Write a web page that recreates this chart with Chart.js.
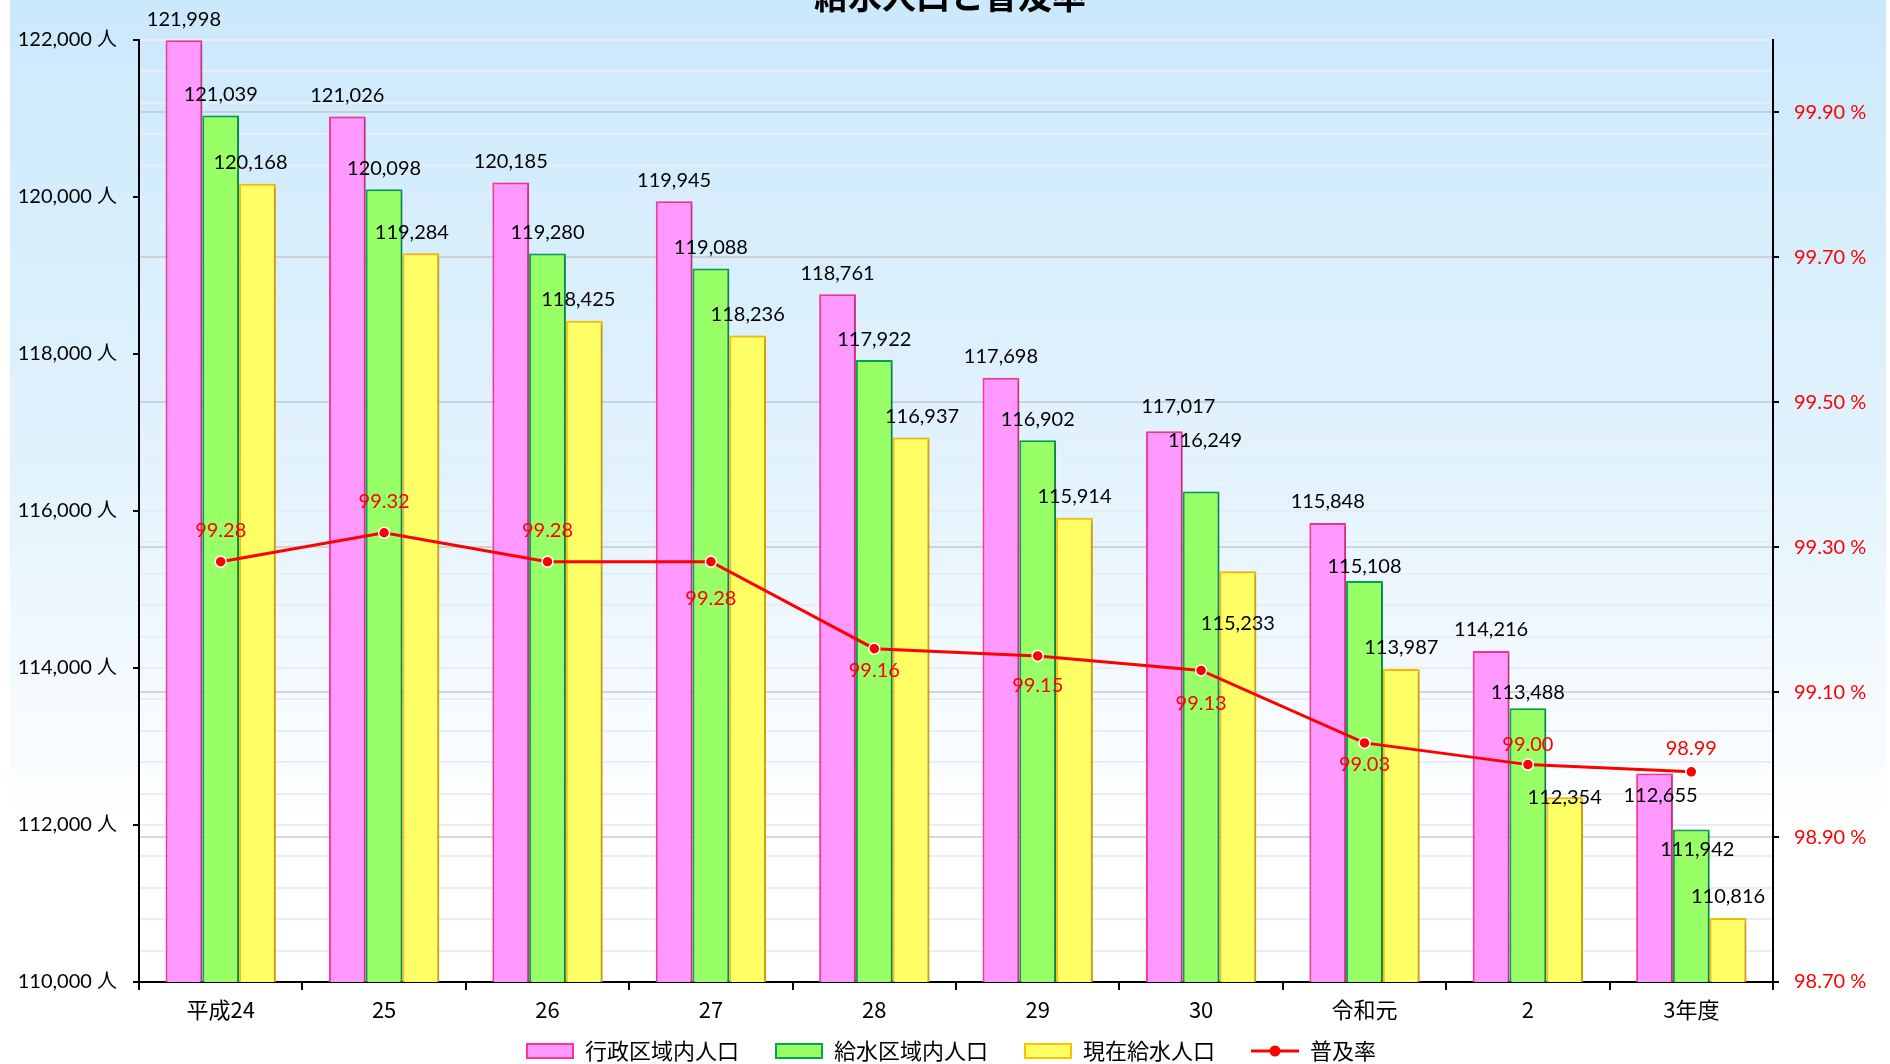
<!DOCTYPE html>
<html>
<head>
<meta charset="utf-8">
<script src="https://cdn.jsdelivr.net/npm/chart.js@4.4.1/dist/chart.umd.min.js"></script>
<style>
  html, body { margin: 0; padding: 0; background: #fff; }
</style>
</head>
<body>
<canvas id="myChart" width="1890" height="1064"></canvas>
<script>
'use strict';

let years = ['平成24', '25', '26', '27', '28', '29', '30', '令和元', '2', '3年度'];
let gyoseiPop = [121998, 121026, 120185, 119945, 118761, 117698, 117017, 115848, 114216, 112655];
let kyusuiKuikiPop = [121039, 120098, 119280, 119088, 117922, 116902, 116249, 115108, 113488, 111942];
let genzaiPop = [120168, 119284, 118425, 118236, 116937, 115914, 115233, 113987, 112354, 110816];
let fukyuRate = [99.28, 99.32, 99.28, 99.28, 99.16, 99.15, 99.13, 99.03, 99.00, 98.99];

let leftTicks = [110000, 112000, 114000, 116000, 118000, 120000, 122000];
let rightTicks = [98.7, 98.9, 99.1, 99.3, 99.5, 99.7, 99.9];

const fontFamily = "Lato, 'Noto Sans CJK JP', sans-serif";
const jpFont = "'Noto Sans CJK JP', Lato, sans-serif";

// label nudges (px) for the value labels, tuned by eye
const barLabelDy = -21;
const barLabelFix = {
  '2-0': [-7, -21], '2-1': [-9, -21], '2-2': [-6, -21], '2-4': [11, -21],
  '0-6': [14, -25], '1-6': [4, -51], '2-6': [0, 52],
  '1-7': [0, -14], '1-8': [0, -16], '2-8': [0, 0],
  '0-9': [6, 22], '1-9': [6, 20]
};
const rateLabelDy = [-31, -31, -31, 37, 22, 30, 33, 22, -20, -23];

// legend icons: transparent strip on the left gives the gap between items
function boxIcon(fill, stroke) {
  let c = document.createElement('canvas');
  c.width = 74;
  c.height = 16;
  let g = c.getContext('2d');
  g.fillStyle = fill;
  g.fillRect(27, 1, 46, 14);
  g.strokeStyle = stroke;
  g.lineWidth = 2;
  g.strokeRect(27, 1, 46, 14);
  return c;
}

function lineIcon() {
  let c = document.createElement('canvas');
  c.width = 74;
  c.height = 16;
  let g = c.getContext('2d');
  g.strokeStyle = '#ff0000';
  g.lineWidth = 3;
  g.beginPath();
  g.moveTo(26, 8);
  g.lineTo(74, 8);
  g.stroke();
  g.fillStyle = '#ff0000';
  g.beginPath();
  g.arc(50, 8, 5.5, 0, Math.PI * 2);
  g.fill();
  return c;
}

const pageDeco = {
  id: 'pageDeco',
  beforeDraw(chart) {
    let ctx = chart.ctx;
    let grad = ctx.createLinearGradient(0, 0, 0, chart.height);
    grad.addColorStop(0, '#cbe9fc');
    grad.addColorStop(0.45, '#e3f3fd');
    grad.addColorStop(0.78, '#ffffff');
    grad.addColorStop(1, '#ffffff');
    ctx.save();
    ctx.fillStyle = '#ffffff';
    ctx.fillRect(0, 0, chart.width, chart.height);
    ctx.fillStyle = grad;
    ctx.fillRect(10, 0, 1876, chart.height);
    ctx.restore();
  },
  beforeDatasetDraw(chart, args) {
    if (args.meta.type === 'bar') {
      let ctx = chart.ctx;
      ctx.save();
      ctx.shadowColor = 'rgba(0,0,0,0.22)';
      ctx.shadowOffsetX = 3;
      ctx.shadowOffsetY = 1;
      ctx.shadowBlur = 4;
    }
  },
  afterDatasetDraw(chart, args) {
    if (args.meta.type === 'bar') {
      chart.ctx.restore();
    }
  },
  afterDatasetsDraw(chart) {
    let ctx = chart.ctx;
    ctx.save();
    ctx.textAlign = 'center';
    ctx.textBaseline = 'middle';
    ctx.font = '20px ' + fontFamily;
    ctx.fillStyle = '#000';
    for (let d = 0; d < 3; d++) {
      let meta = chart.getDatasetMeta(d);
      meta.data.forEach((bar, i) => {
        let fix = barLabelFix[d + '-' + i] || [0, barLabelDy];
        let val = chart.data.datasets[d].data[i];
        ctx.fillText(val.toLocaleString('en-US'), bar.x + fix[0], bar.y + fix[1]);
      });
    }
    ctx.fillStyle = '#ff0000';
    let lineMeta = chart.getDatasetMeta(3);
    lineMeta.data.forEach((pt, i) => {
      ctx.fillText(fukyuRate[i].toFixed(2), pt.x, pt.y + rateLabelDy[i]);
    });
    ctx.restore();
  },
  afterDraw(chart) {
    let ctx = chart.ctx;
    ctx.save();
    ctx.font = 'bold 34px ' + jpFont;
    ctx.fillStyle = '#000';
    ctx.textAlign = 'center';
    ctx.textBaseline = 'alphabetic';
    ctx.fillText('給水人口と普及率', 950, 9);
    ctx.restore();
  }
};

let canvasChart = document.getElementById('myChart').getContext('2d');

const data = {
  labels: years,
  datasets: [{
    type: 'bar',
    label: '行政区域内人口',
    data: gyoseiPop,
    backgroundColor: '#ff99ff',
    borderColor: '#ff3399',
    borderWidth: 2,
    yAxisID: 'y',
    order: 1
  },
  {
    type: 'bar',
    label: '給水区域内人口',
    data: kyusuiKuikiPop,
    backgroundColor: '#99ff66',
    borderColor: '#00a650',
    borderWidth: 2,
    yAxisID: 'y',
    order: 1
  },
  {
    type: 'bar',
    label: '現在給水人口',
    data: genzaiPop,
    backgroundColor: '#ffff66',
    borderColor: '#ffc000',
    borderWidth: 2,
    yAxisID: 'y',
    order: 1
  },
  {
    type: 'line',
    label: '普及率',
    data: fukyuRate,
    borderColor: '#ff0000',
    backgroundColor: '#ff0000',
    borderWidth: 3,
    pointRadius: 5.5,
    pointBorderColor: '#ffffff',
    pointBorderWidth: 1.5,
    pointBackgroundColor: '#ff0000',
    tension: 0,
    yAxisID: 'y2',
    order: 0
  }]
};

const config = {
  type: 'bar',
  data: data,
  options: {
    responsive: false,
    animation: false,
    devicePixelRatio: 1,
    layout: {
      padding: { top: 40, left: 0, right: 14, bottom: -8 }
    },
    datasets: {
      bar: {
        barPercentage: 1,
        categoryPercentage: 0.675
      }
    },
    plugins: {
      title: { display: false },
      tooltip: { enabled: false },
      legend: {
        position: 'bottom',
        labels: {
          usePointStyle: true,
          pointStyleWidth: 74,
          boxHeight: 16,
          padding: 10,
          color: '#000',
          font: { size: 22, family: jpFont },
          generateLabels() {
            return [
              { text: '行政区域内人口', pointStyle: boxIcon('#ff99ff', '#ff3399'), datasetIndex: 0 },
              { text: '給水区域内人口', pointStyle: boxIcon('#99ff66', '#00a650'), datasetIndex: 1 },
              { text: '現在給水人口', pointStyle: boxIcon('#ffff66', '#ffc000'), datasetIndex: 2 },
              { text: '普及率', pointStyle: lineIcon(), datasetIndex: 3 }
            ];
          }
        }
      }
    },
    scales: {
      x: {
        grid: {
          offset: true,
          drawOnChartArea: false,
          tickLength: 8,
          tickColor: '#000',
          lineWidth: 2
        },
        border: { color: '#000', width: 2 },
        ticks: {
          color: '#000',
          padding: 6,
          font: { size: 22, family: jpFont }
        },
        afterFit(scale) {
          scale.height = 48;
        }
      },
      y: {
        position: 'left',
        min: 110000,
        max: 122000,
        grid: {
          color: 'rgba(232,236,244,0.95)',
          lineWidth: 2,
          tickLength: 6,
          tickColor: (ctx) => leftTicks.includes(ctx.tick && ctx.tick.value) ? '#000' : 'rgba(0,0,0,0)'
        },
        border: { color: '#000', width: 2 },
        ticks: {
          stepSize: 400,
          autoSkip: false,
          padding: 16,
          color: '#000',
          font: { size: 20, family: fontFamily },
          callback: (v) => leftTicks.includes(v) ? v.toLocaleString('en-US') + ' 人' : ''
        },
        afterFit(scale) {
          scale.width = 139;
        }
      },
      y2: {
        position: 'right',
        min: 98.7,
        max: 100.0,
        grid: {
          color: 'rgba(190,195,200,0.65)',
          lineWidth: 2,
          tickLength: 6,
          tickColor: '#000'
        },
        border: { color: '#000', width: 2 },
        ticks: {
          autoSkip: false,
          padding: 15,
          color: '#ff0000',
          font: { size: 20, family: fontFamily },
          callback: (v) => v.toFixed(2) + ' %'
        },
        afterBuildTicks(scale) {
          scale.ticks = rightTicks.map(v => ({ value: v }));
        },
        afterFit(scale) {
          scale.width = 103;
        }
      }
    }
  },
  plugins: [pageDeco]
};

// eslint-disable-next-line no-unused-vars, no-undef
const myChart = new Chart(canvasChart, config);
</script>
</body>
</html>
